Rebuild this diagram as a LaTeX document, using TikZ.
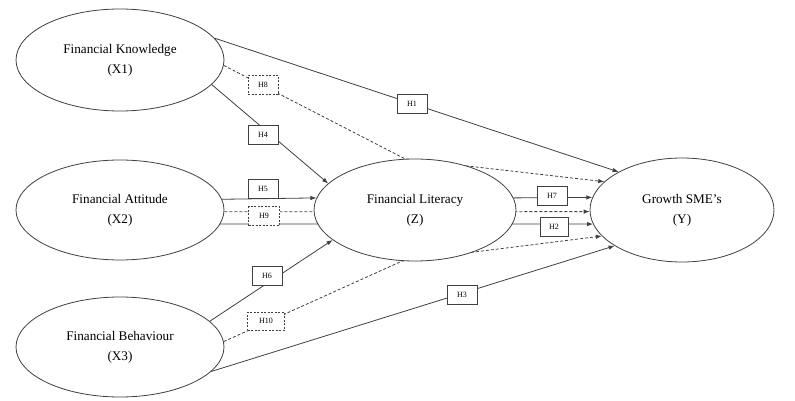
\documentclass[tikz,border=0pt]{standalone}
\usepackage{fontspec}
\setmainfont{Liberation Serif}
\usetikzlibrary{shapes.geometric,arrows.meta,backgrounds}
\begin{document}
\begin{tikzpicture}[x=1pt,y=-1pt,
  lat/.style={ellipse,draw=black!75,line width=0.8pt,fill=white,inner sep=0pt,align=center,font=\fontsize{13.2}{20}\selectfont},
  hbox/.style={draw=black!75,line width=0.8pt,fill=white,minimum width=30pt,minimum height=19pt,inner sep=0pt,font=\fontsize{8}{9}\selectfont},
  hdash/.style={hbox,dash pattern=on 2pt off 1.5pt},
  conn/.style={line width=0.8pt,draw=black!75},
  med/.style={conn,dash pattern=on 3pt off 2pt},
  arr/.style={-{Latex[length=6pt,width=4.5pt]}}
]
\useasboundingbox (0,0) rectangle (795,401);
% latent variables
\node[lat,minimum width=208pt,minimum height=102pt] (x1) at (120,60) {Financial Knowledge\\(X1)};
\node[lat,minimum width=208pt,minimum height=100pt] (x2) at (120,210) {Financial Attitude\\(X2)};
\node[lat,minimum width=208pt,minimum height=100pt] (x3) at (120,347) {Financial Behaviour\\(X3)};
\node[lat,minimum width=202pt,minimum height=102pt] (z) at (415,210) {Financial Literacy\\(Z)};
\node[lat,minimum width=184pt,minimum height=104pt] (y) at (682,210) {Growth SME’s\\(Y)};
% connectors
\begin{scope}[on background layer]
\draw[conn,arr] (x1.13.9) -- (y.149.3);
\draw[med,arr] (x1.-3.8) -- (z.101.3) -- (y.160.2);
\draw[conn,arr] (x1.-15.5) -- (z.163.6);
\draw[conn,arr] (x2.6.78) -- (z.173.0);
\draw[med,arr] (x2.-1.1) -- (y.181.25);
\draw[conn,arr] (x2.-8.6) -- (y.189.7);
\draw[conn,arr] (x3.16.4) -- (z.200.8);
\draw[med,arr] (x3.3.9) -- (z.256.8) -- (y.198.0);
\draw[conn,arr] (x3.-15.8) -- (y.208.5);
\draw[conn,arr] (z.7.0) -- (y.172.4);
\end{scope}
% hypothesis labels
\node[hbox] (h1) at (412,104) {H1};
\node[hdash] (h8) at (263,85) {H8};
\node[hbox] (h4) at (263,135) {H4};
\node[hbox] (h5) at (263,189) {H5};
\node[hdash,minimum width=31pt] (h9) at (264,216) {H9};
\node[hbox] (h6) at (267,276) {H6};
\node[hdash,minimum width=37pt,minimum height=18pt] (h10) at (266,321) {H10};
\node[hbox] (h3) at (462,295) {H3};
\node[hbox] (h7) at (552,196) {H7};
\node[hbox,minimum width=28pt] (h2) at (554,227) {H2};
\end{tikzpicture}
\end{document}
